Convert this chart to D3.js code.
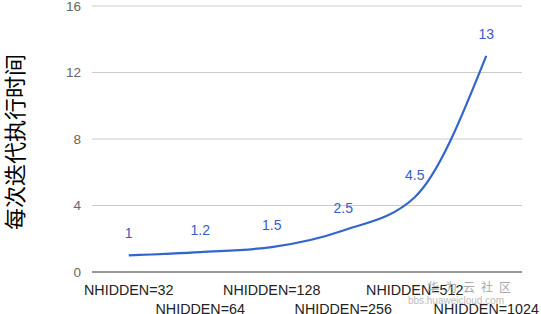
<!DOCTYPE html>
<html><head><meta charset="utf-8">
<script src="https://cdn.jsdelivr.net/npm/d3@7"></script>
<style>body{margin:0;background:#fff}svg{display:block}</style>
</head><body>
<svg id="c" width="541" height="314"></svg>
<script>
const categories = ["NHIDDEN=32","NHIDDEN=64","NHIDDEN=128","NHIDDEN=256","NHIDDEN=512","NHIDDEN=1024"];
const values = [1, 1.2, 1.5, 2.5, 4.5, 13];
const valueLabels = ["1","1.2","1.5","2.5","4.5","13"];
const yTicks = [0, 4, 8, 12, 16];
const yTitle = "每次迭代执行时间";

const svg = d3.select("#c");
const L = 93, R = 522, T = 6, B = 272;
const x = d3.scaleBand().domain(categories).range([L, R]);
const y = d3.scaleLinear().domain([0, 16]).range([B, T]);

// gridlines
svg.append("g").selectAll("line").data(yTicks.filter(d => d !== 0)).join("line")
  .attr("x1", L - 1).attr("x2", R).attr("y1", d => y(d)).attr("y2", d => y(d))
  .attr("stroke", "#cccccc").attr("stroke-width", 1);

// y tick labels
const yAxis = svg.append("g").attr("transform", `translate(${L - 12},0)`)
  .call(d3.axisLeft(y).tickValues(yTicks).tickSize(0).tickPadding(0));
yAxis.select(".domain").remove();
yAxis.selectAll("text").attr("fill", "#666").attr("font-size", 13.5)
  .attr("font-family", "Liberation Sans, Arial, sans-serif");

// baseline
svg.append("line").attr("x1", L - 1).attr("x2", R).attr("y1", y(0)).attr("y2", y(0))
  .attr("stroke", "#333").attr("stroke-width", 1.2);

// x labels (staggered)
svg.append("g").selectAll("text").data(categories).join("text")
  .attr("x", d => x(d) + x.bandwidth() / 2)
  .attr("y", (d, i) => i % 2 === 0 ? 294.5 : 313.5)
  .attr("text-anchor", "middle")
  .attr("fill", "#222").attr("font-size", 14.3)
  .attr("font-family", "Liberation Sans, Arial, sans-serif")
  .text(d => d);

// line
const pts = categories.map((c, i) => [x(c) + x.bandwidth() / 2, y(values[i])]);
svg.append("path").datum(pts)
  .attr("d", d3.line().curve(d3.curveMonotoneX))
  .attr("fill", "none").attr("stroke", "#3366cc").attr("stroke-width", 2.2);

// value labels
svg.append("g").selectAll("text").data(pts).join("text")
  .attr("x", d => d[0]).attr("y", d => d[1] - 17)
  .attr("text-anchor", "middle")
  .attr("fill", "#3a5cc4").attr("font-size", 14)
  .attr("font-family", "Liberation Sans, Arial, sans-serif")
  .text((d, i) => valueLabels[i]);

// y title
svg.append("text")
  .attr("transform", `translate(23,${(T + B) / 2 + 3}) rotate(-90)`)
  .attr("text-anchor", "middle")
  .attr("font-size", 22).attr("fill", "#000")
  .attr("font-family", "Noto Sans CJK SC, sans-serif")
  .text(yTitle);

// watermark
svg.append("text").attr("x", 472).attr("y", 292).attr("text-anchor", "middle")
  .attr("fill", "#aaa").attr("font-size", 12).attr("letter-spacing", 6)
  .attr("font-family", "Noto Sans CJK SC, sans-serif").text("华为云社区");
svg.append("text").attr("x", 456).attr("y", 304).attr("text-anchor", "middle")
  .attr("fill", "#bbb").attr("font-size", 10)
  .attr("font-family", "Liberation Sans, Arial, sans-serif").text("bbs.huaweicloud.com");
</script>
</body></html>
